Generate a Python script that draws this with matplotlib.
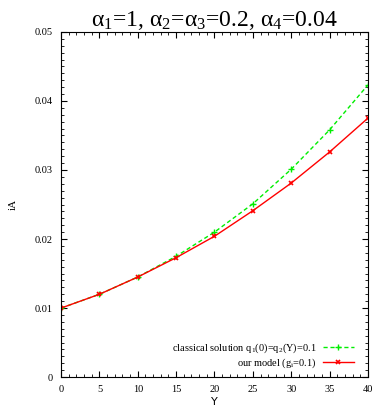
import matplotlib
matplotlib.use("Agg")
import matplotlib.pyplot as plt
from matplotlib.ticker import MultipleLocator

plt.rcParams["mathtext.fontset"] = "custom"
plt.rcParams["mathtext.rm"] = "Liberation Serif"
plt.rcParams["mathtext.it"] = "Liberation Serif:italic"

Y = [0, 5, 10, 15, 20, 25, 30, 35, 40]
classical = [0.0100, 0.0120, 0.0145, 0.0175, 0.0210, 0.0251, 0.0301, 0.0358, 0.0423]
ours = [0.0100, 0.0120, 0.0145, 0.0173, 0.0204, 0.0241, 0.0281, 0.0326, 0.0375]
xticks = [0, 5, 10, 15, 20, 25, 30, 35, 40]
yticks = [0, 0.01, 0.02, 0.03, 0.04, 0.05]
ytick_labels = ["0", "0.01", "0.02", "0.03", "0.04", "0.05"]

fig = plt.figure(figsize=(3.82, 4.09), dpi=100)
ax = fig.add_axes([0.160, 0.078, 0.803, 0.844])
serif = "Liberation Serif"

ax.plot(Y, classical, color="#00ee00", linestyle=(0, (3, 2)), linewidth=1.0,
        marker="+", markersize=4, markeredgewidth=1.0,
        label=r"classical solution q$\mathregular{_1}$(0)=q$\mathregular{_2}$(Y)=0.1")
ax.plot(Y, ours, color="#ff0000", linestyle="-", linewidth=1.0,
        marker="x", markersize=3.5, markeredgewidth=1.2,
        label=r"our model (g$\mathregular{_i}$=0.1)")

ax.set_xticks(xticks)
ax.set_xticklabels([str(v) for v in xticks], fontfamily=serif)
ax.set_yticks(yticks)
ax.set_yticklabels(ytick_labels, fontfamily=serif)
ax.xaxis.set_minor_locator(MultipleLocator(1))
ax.yaxis.set_minor_locator(MultipleLocator(0.001))
ax.set_xlim(0, 40)
ax.set_ylim(0, 0.05)
ax.tick_params(which="both", direction="in", top=True, right=True, labelsize=7.5, pad=6)
ax.tick_params(which="major", length=4)
ax.tick_params(which="minor", length=2)

ax.set_xlabel("Y", fontsize=8, labelpad=2)
ax.set_ylabel("iA", fontsize=8, fontfamily=serif, labelpad=12)
ax.set_title(r"$\mathregular{\alpha_1}$=1, $\mathregular{\alpha_2}$=$\mathregular{\alpha_3}$=0.2, $\mathregular{\alpha_4}$=0.04",
             fontsize=17, fontfamily=serif, pad=3)

leg = ax.legend(loc="lower right", bbox_to_anchor=(0.955, 0.02), frameon=False,
                prop={"family": serif, "size": 7.5},
                markerfirst=False, handlelength=3, numpoints=1,
                borderaxespad=0.0, borderpad=0.0, labelspacing=0.15, handletextpad=0.6)

fig.savefig("out.png", dpi=100)
